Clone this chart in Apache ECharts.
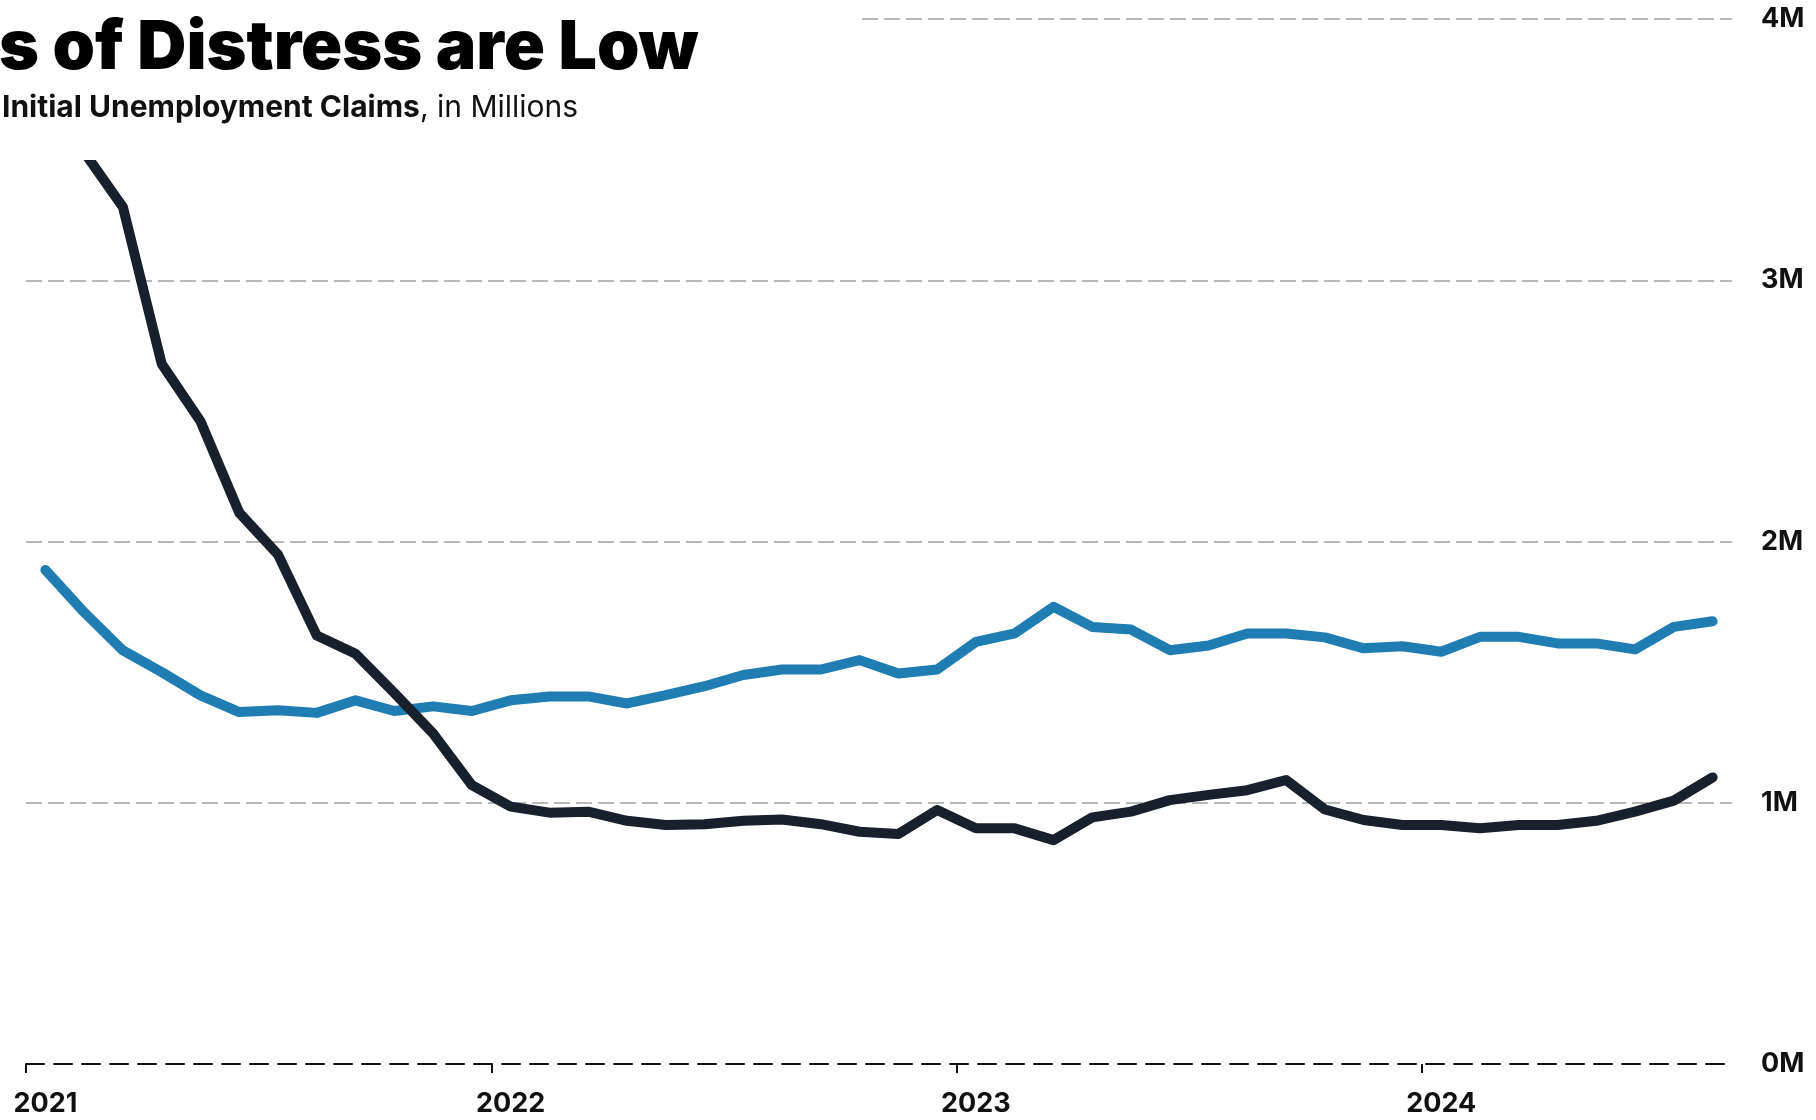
<!DOCTYPE html>
<html>
<head>
<meta charset="utf-8">
<script src="https://cdn.jsdelivr.net/npm/echarts@6/dist/echarts.min.js"></script>
<style>
html,body{margin:0;padding:0;background:#fff;}
#chart{width:1816px;height:1120px;}
</style>
</head>
<body>
<div id="chart"></div>
<script>
// ---- data ----
const titleText = 's of Distress are Low';
const subtitleBold = 'Initial Unemployment Claims';
const subtitleRest = ', in Millions';

const months = [
  '2021-01','2021-02','2021-03','2021-04','2021-05','2021-06','2021-07','2021-08','2021-09','2021-10','2021-11','2021-12',
  '2022-01','2022-02','2022-03','2022-04','2022-05','2022-06','2022-07','2022-08','2022-09','2022-10','2022-11','2022-12',
  '2023-01','2023-02','2023-03','2023-04','2023-05','2023-06','2023-07','2023-08','2023-09','2023-10','2023-11','2023-12',
  '2024-01','2024-02','2024-03','2024-04','2024-05','2024-06','2024-07','2024-08'
];

// dark series (millions)
const darkValues = [
  4.10, 3.49, 3.28, 2.68, 2.46, 2.11, 1.95, 1.64, 1.57, 1.42, 1.265, 1.067,
  0.985, 0.962, 0.966, 0.931, 0.915, 0.918, 0.931, 0.936, 0.918, 0.889, 0.880, 0.972,
  0.902, 0.902, 0.857, 0.944, 0.966, 1.010, 1.030, 1.048, 1.087, 0.974, 0.934, 0.915,
  0.915, 0.902, 0.915, 0.915, 0.931, 0.966, 1.008, 1.097
];

// blue series (millions)
const blueValues = [
  1.891, 1.729, 1.583, 1.500, 1.411, 1.347, 1.354, 1.344, 1.392, 1.351, 1.369, 1.351,
  1.392, 1.407, 1.407, 1.380, 1.412, 1.446, 1.489, 1.510, 1.510, 1.546, 1.495, 1.510,
  1.616, 1.648, 1.750, 1.673, 1.663, 1.584, 1.602, 1.648, 1.648, 1.633, 1.591, 1.599,
  1.578, 1.635, 1.635, 1.610, 1.610, 1.587, 1.673, 1.695
];

const yearTicks = ['2021-01', '2022-01', '2023-01', '2024-01'];
const yTicks = [0, 1, 2, 3, 4];
const axisStart = '2021-01';
const axisEnd = '2024-09';

// ---- helpers: month string -> fractional year ----
function monthStart(s) {
  const p = s.split('-');
  return +p[0] + (+p[1] - 1) / 12;
}
function monthMid(s) {
  return monthStart(s) + 0.5 / 12;
}

const darkData = months.map((m, i) => [monthMid(m), darkValues[i]]);
const blueData = months.map((m, i) => [monthMid(m), blueValues[i]]);

const chart = echarts.init(document.getElementById('chart'), null, {renderer: 'canvas'});

const option = {
  animation: false,
  backgroundColor: '#ffffff',
  grid: {left: 26, right: 84, top: 19, bottom: 56, containLabel: false},
  xAxis: {
    type: 'value',
    min: monthStart(axisStart),
    max: monthStart(axisEnd),
    axisLine: {show: true, onZero: false, lineStyle: {color: '#111111', width: 2, type: [18, 10]}},
    axisTick: {
      show: true, length: 9, lineStyle: {color: '#111111', width: 2},
      customValues: yearTicks.map(monthStart)
    },
    axisLabel: {
      customValues: yearTicks.map(monthMid),
      formatter: function (v) { return String(Math.floor(v)); },
      color: '#111111', fontFamily: 'Inter', fontWeight: 700, fontSize: 27, margin: 26,
      showMinLabel: true, showMaxLabel: true
    },
    splitLine: {show: false}
  },
  yAxis: {
    type: 'value',
    position: 'right',
    min: yTicks[0], max: yTicks[yTicks.length - 1], interval: 1,
    axisLine: {show: false},
    axisTick: {show: false},
    axisLabel: {
      formatter: '{value}M', color: '#111111', fontFamily: 'Inter', fontWeight: 700,
      fontSize: 27, margin: 29, align: 'left'
    },
    splitLine: {show: true, showMinLine: false, lineStyle: {color: '#a0a0a0', width: 1.5, type: [16, 6]}}
  },
  series: [
    {
      name: 'Blue', type: 'line', data: blueData, symbol: 'none', z: 3,
      lineStyle: {color: '#1f7db3', width: 10, cap: 'round', join: 'round'}
    },
    {
      name: 'Dark', type: 'line', data: darkData, symbol: 'none', z: 4,
      lineStyle: {color: '#18202b', width: 10, cap: 'round', join: 'round'}
    }
  ],
  graphic: [
    {type: 'rect', left: 0, top: 0, z: 100, shape: {width: 862, height: 160}, style: {fill: '#ffffff'}},
    {type: 'text', x: -1, y: 14.5, z: 101,
      style: {text: titleText, fill: '#000000', font: '900 68px Inter', verticalAlign: 'top'}},
    {type: 'text', x: 2, y: 90, z: 101,
      style: {
        text: '{b|' + subtitleBold + '}{r|' + subtitleRest + '}',
        verticalAlign: 'top',
        rich: {
          b: {fontFamily: 'Inter', fontWeight: 700, fontSize: 30, fill: '#111111', lineHeight: 36},
          r: {fontFamily: 'Inter', fontWeight: 400, fontSize: 30, fill: '#111111', lineHeight: 36}
        }
      }}
  ]
};
chart.setOption(option);
</script>
</body>
</html>
